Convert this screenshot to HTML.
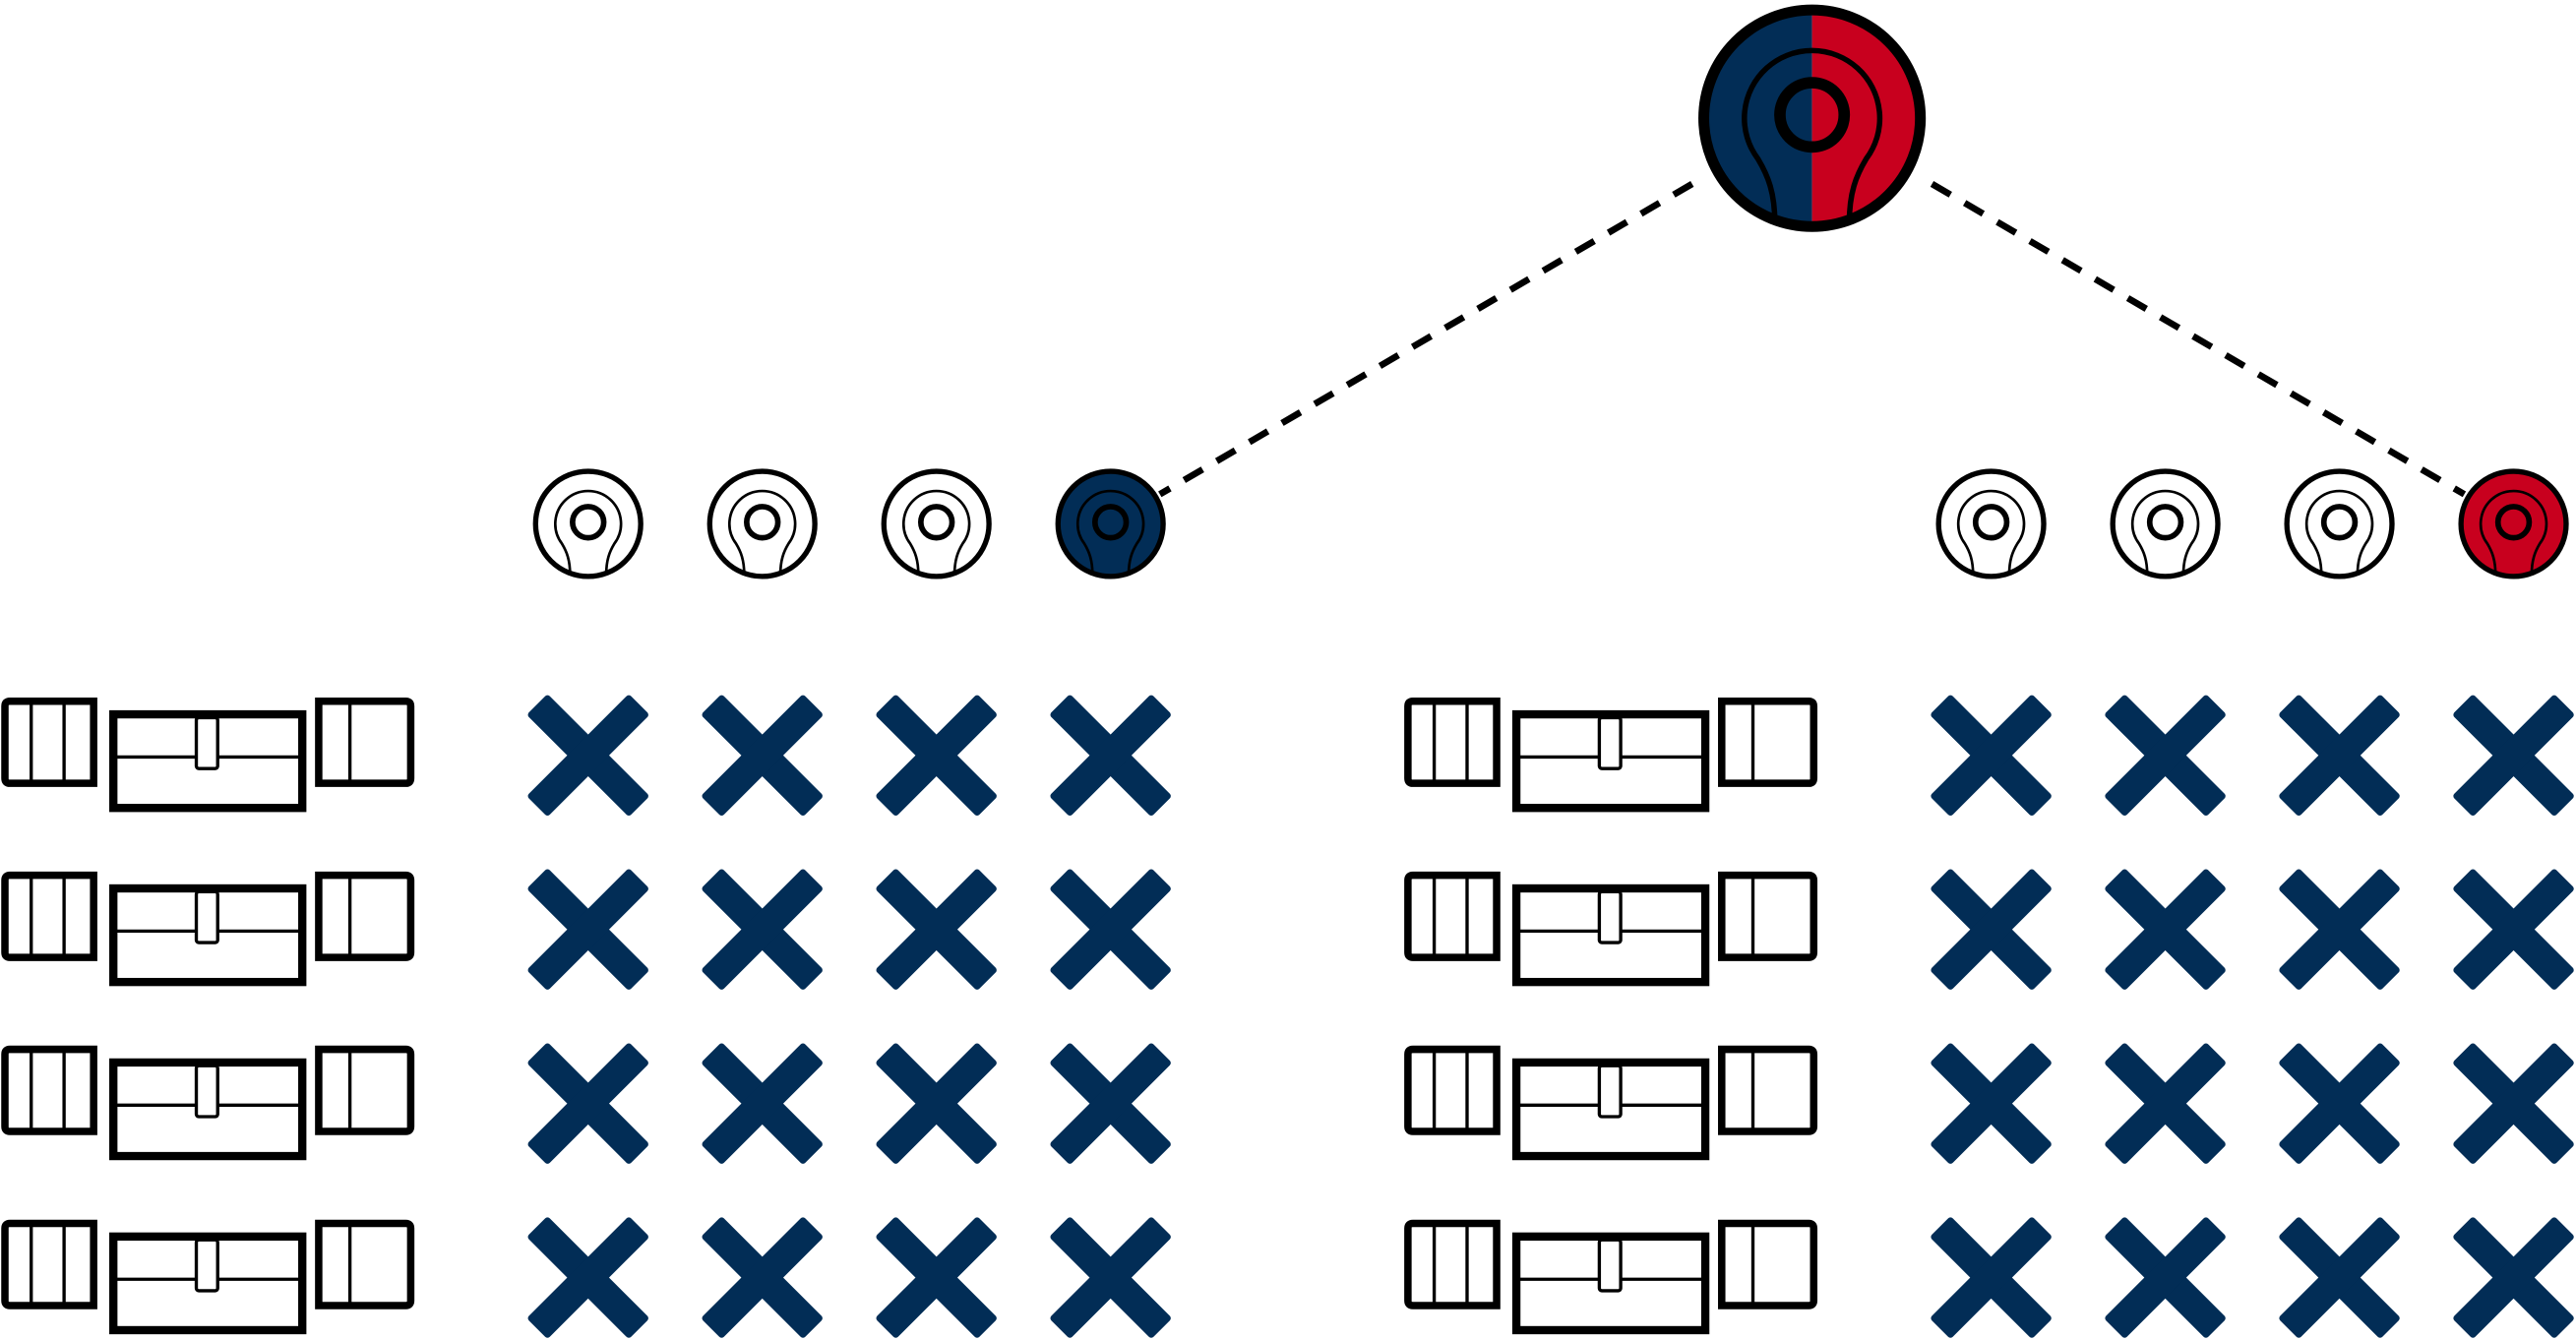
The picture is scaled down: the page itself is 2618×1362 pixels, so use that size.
<!DOCTYPE html>
<html><head><style>html,body{margin:0;padding:0;background:#fff}svg{display:block}</style></head>
<body>
<svg width="2618" height="1362" viewBox="0 0 1568 816" preserveAspectRatio="none" xmlns="http://www.w3.org/2000/svg">
<defs>
<clipPath id="c"><circle cx="0" cy="0" r="32"/></clipPath>
<g id="kh">
  <path d="M -11,31 C -11,22 -13,17 -16,12 A 20 20 0 1 1 16,12 C 13,17 11,22 11,31" fill="none" stroke="#000" stroke-width="1.6"/>
  <circle cx="0" cy="-1" r="9.5" fill="none" stroke="#000" stroke-width="3.4"/>
  <circle cx="0" cy="0" r="32" fill="none" stroke="#000" stroke-width="3.2"/>
</g>
<g id="x">
  <rect x="-44" y="-9" width="88" height="18" rx="2" fill="#022d56" transform="rotate(45)"/>
  <rect x="-44" y="-9" width="88" height="18" rx="2" fill="#022d56" transform="rotate(-45)"/>
</g>
<g id="lock" fill="none" stroke="#000">
  <path d="M6,427 H57 V477 H6 Q3,477 3,474 V430 Q3,427 6,427 Z" stroke-width="4.5"/>
  <line x1="19" y1="429" x2="19" y2="476" stroke-width="2"/>
  <line x1="39" y1="429" x2="39" y2="476" stroke-width="2"/>
  <rect x="69" y="435" width="115" height="57" stroke-width="5"/>
  <line x1="71" y1="461" x2="182" y2="461" stroke-width="2"/>
  <rect x="119.5" y="437" width="13" height="31" rx="1.5" fill="#fff" stroke-width="2"/>
  <path d="M194,427 H247 Q250,427 250,430 V474 Q250,477 247,477 H194 Z" stroke-width="4.5"/>
  <line x1="213" y1="429" x2="213" y2="476" stroke-width="2"/>
</g>
</defs>

<line x1="1030" y1="112" x2="706" y2="301" stroke="#000" stroke-width="4" stroke-dasharray="13,10"/>
<line x1="1176" y1="112" x2="1500" y2="301" stroke="#000" stroke-width="4" stroke-dasharray="13,10"/>

<g transform="translate(1103,72) scale(2.06)">
  <g clip-path="url(#c)">
    <rect x="-33" y="-33" width="33" height="66" fill="#022d56"/>
    <rect x="0" y="-33" width="33" height="66" fill="#c8001e"/>
  </g>
  <use href="#kh"/>
</g>

<g transform="translate(358,319)"><circle r="32" fill="#fff"/><use href="#kh"/></g>
<g transform="translate(464,319)"><circle r="32" fill="#fff"/><use href="#kh"/></g>
<g transform="translate(570,319)"><circle r="32" fill="#fff"/><use href="#kh"/></g>
<g transform="translate(676,319)"><circle r="32" fill="#022d56"/><use href="#kh"/></g>
<g transform="translate(1212,319)"><circle r="32" fill="#fff"/><use href="#kh"/></g>
<g transform="translate(1318,319)"><circle r="32" fill="#fff"/><use href="#kh"/></g>
<g transform="translate(1424,319)"><circle r="32" fill="#fff"/><use href="#kh"/></g>
<g transform="translate(1530,319)"><circle r="32" fill="#c8001e"/><use href="#kh"/></g>

<use href="#lock" transform="translate(0,0)"/>
<use href="#lock" transform="translate(0,106)"/>
<use href="#lock" transform="translate(0,212)"/>
<use href="#lock" transform="translate(0,318)"/>
<use href="#lock" transform="translate(854,0)"/>
<use href="#lock" transform="translate(854,106)"/>
<use href="#lock" transform="translate(854,212)"/>
<use href="#lock" transform="translate(854,318)"/>

<g>
<use href="#x" x="358" y="460"/><use href="#x" x="464" y="460"/><use href="#x" x="570" y="460"/><use href="#x" x="676" y="460"/>
<use href="#x" x="358" y="566"/><use href="#x" x="464" y="566"/><use href="#x" x="570" y="566"/><use href="#x" x="676" y="566"/>
<use href="#x" x="358" y="672"/><use href="#x" x="464" y="672"/><use href="#x" x="570" y="672"/><use href="#x" x="676" y="672"/>
<use href="#x" x="358" y="778"/><use href="#x" x="464" y="778"/><use href="#x" x="570" y="778"/><use href="#x" x="676" y="778"/>
<use href="#x" x="1212" y="460"/><use href="#x" x="1318" y="460"/><use href="#x" x="1424" y="460"/><use href="#x" x="1530" y="460"/>
<use href="#x" x="1212" y="566"/><use href="#x" x="1318" y="566"/><use href="#x" x="1424" y="566"/><use href="#x" x="1530" y="566"/>
<use href="#x" x="1212" y="672"/><use href="#x" x="1318" y="672"/><use href="#x" x="1424" y="672"/><use href="#x" x="1530" y="672"/>
<use href="#x" x="1212" y="778"/><use href="#x" x="1318" y="778"/><use href="#x" x="1424" y="778"/><use href="#x" x="1530" y="778"/>
</g>
</svg>
</body></html>
